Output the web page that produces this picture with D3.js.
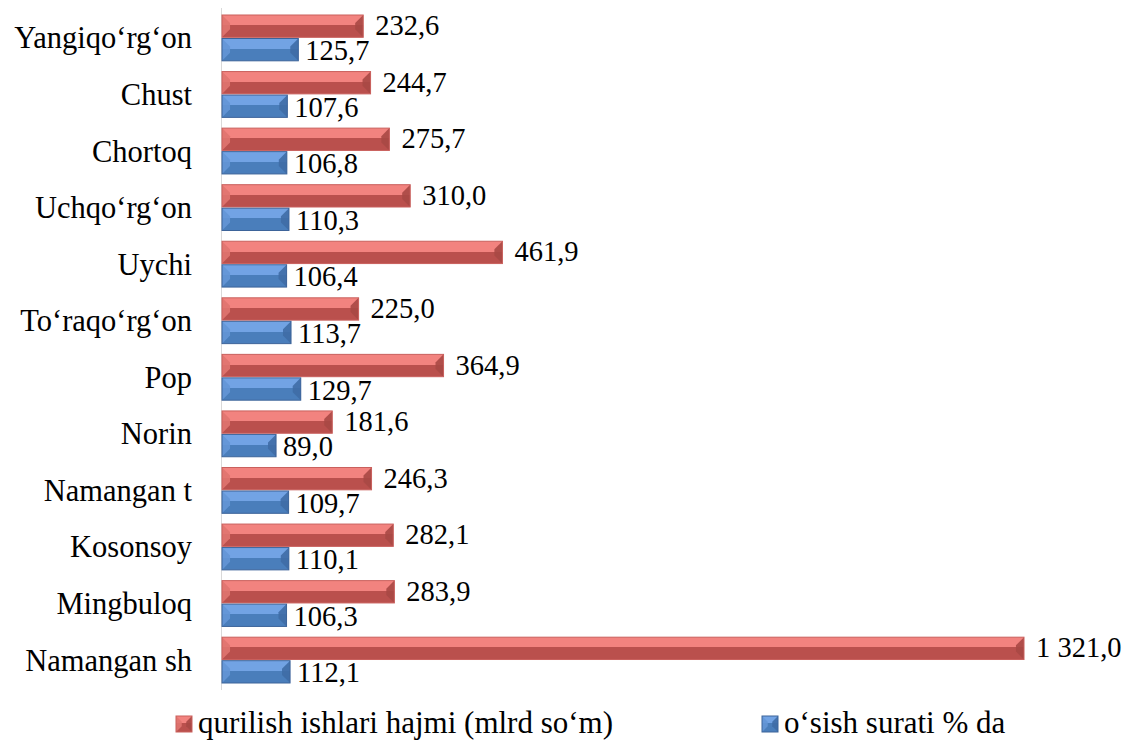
<!DOCTYPE html>
<html>
<head>
<meta charset="utf-8">
<script src="https://cdn.jsdelivr.net/npm/d3@7/dist/d3.min.js"></script>
<style>
  body { margin: 0; background: #fff; }
  svg { display: block; }
  svg text { font-family: 'Liberation Serif', Tinos, 'Times New Roman', Times, 'Nimbus Roman', 'DejaVu Serif', 'Noto Serif', serif; }
</style>
</head>
<body>
<svg id="chart" width="1123" height="740"></svg>
<script>
// categories, top to bottom as drawn
const districts = ['Yangiqo‘rg‘on', 'Chust', 'Chortoq', 'Uchqo‘rg‘on', 'Uychi', 'To‘raqo‘rg‘on',
  'Pop', 'Norin', 'Namangan t', 'Kosonsoy', 'Mingbuloq', 'Namangan sh']
const volume = [232.6, 244.7, 275.7, 310.0, 461.9, 225.0, 364.9, 181.6, 246.3, 282.1, 283.9, 1321.0]
const growth = [125.7, 107.6, 106.8, 110.3, 106.4, 113.7, 129.7, 89.0, 109.7, 110.1, 106.3, 112.1]
const seriesNames = ['qurilish ishlari hajmi (mlrd so‘m)', 'o‘sish surati % da']

const palettes = {
  red: { light: '#f2837f', dark: '#ba504d', lEnd: '#e07470', rEnd: '#a94845', stroke: '#c9605d' },
  blue: { light: '#72a3e4', dark: '#4a7ebb', lEnd: '#6496d6', rEnd: '#3f6da6', stroke: '#3d649a' }
}

const svg = d3.select('#chart')
const defs = svg.append('defs')
Object.entries(palettes).forEach(([k, p]) => {
  let g = defs.append('linearGradient').attr('id', `g-${k}`)
    .attr('x1', 0).attr('y1', 0).attr('x2', 0).attr('y2', 1)
  g.append('stop').attr('offset', '0%').attr('stop-color', p.light)
  g.append('stop').attr('offset', '46%').attr('stop-color', p.light)
  g.append('stop').attr('offset', '46%').attr('stop-color', p.dark)
  g.append('stop').attr('offset', '100%').attr('stop-color', p.dark)
})

const fmt = d3.formatLocale({ decimal: ',', thousands: ' ', grouping: [3], currency: ['', ''] }).format(',.1f')

const x = d3.scaleLinear().domain([0, 1321]).range([222, 1024])
const y = d3.scaleBand().domain(districts).range([15, 683]).paddingInner(0.19).paddingOuter(0)
const sub = d3.scaleBand().domain(['red', 'blue']).range([0, y.bandwidth()]).paddingInner(0.05)

// draws one bevelled bar like the office 3d style
function bevelBar (g, x0, y0, w, h, key) {
  let p = palettes[key]
  let b = Math.min(h * 0.36, w / 2)
  let x1 = x0 + w, y1 = y0 + h
  g.append('rect').attr('x', x0).attr('y', y0).attr('width', w).attr('height', h)
    .attr('fill', `url(#g-${key})`)
  g.append('polygon')
    .attr('points', `${x0},${y0} ${x0 + b},${y0 + b} ${x0 + b},${y1 - b} ${x0},${y1}`)
    .attr('fill', p.lEnd).attr('opacity', 0.9)
  g.append('polygon')
    .attr('points', `${x1},${y0} ${x1 - b},${y0 + b} ${x1 - b},${y1 - b} ${x1},${y1}`)
    .attr('fill', p.rEnd).attr('opacity', 0.9)
  g.append('rect').attr('x', x0).attr('y', y0).attr('width', w).attr('height', h)
    .attr('fill', 'none').attr('stroke', p.stroke).attr('stroke-width', 1)
}

// axis line
svg.append('line')
  .attr('x1', 221.5).attr('x2', 221.5).attr('y1', 8).attr('y2', 690)
  .attr('stroke', '#d9d9d9').attr('stroke-width', 1)

const rows = svg.append('g').selectAll('g.row')
  .data(districts.map((d, i) => ({ d, v: volume[i], g: growth[i] })))
  .join('g').attr('class', 'row')

rows.each(function (r) {
  let g = d3.select(this)
  let yt = y(r.d)
  bevelBar(g, x(0), yt + sub('red'), x(r.v) - x(0), sub.bandwidth(), 'red')
  bevelBar(g, x(0), yt + sub('blue'), x(r.g) - x(0), sub.bandwidth(), 'blue')
  g.append('text')
    .attr('x', x(r.v) + 12).attr('y', yt + sub('red') + sub.bandwidth() / 2 + 9)
    .attr('font-size', 28.5).attr('fill', '#000')
    .text(fmt(r.v))
  g.append('text')
    .attr('x', x(r.g) + 7).attr('y', yt + sub('blue') + sub.bandwidth() / 2 + 10.5)
    .attr('font-size', 28.5).attr('fill', '#000')
    .text(fmt(r.g))
  g.append('text')
    .attr('x', 192).attr('y', yt + y.bandwidth() / 2 + 10.5)
    .attr('font-size', 30.5).attr('text-anchor', 'end').attr('fill', '#000')
    .text(r.d)
})

// legend
const legend = svg.append('g')
const legendX = [176, 762]
seriesNames.forEach((name, i) => {
  let key = i === 0 ? 'red' : 'blue'
  let lg = legend.append('g')
  bevelBar(lg, legendX[i], 716, 16, 16, key)
  lg.append('text')
    .attr('x', legendX[i] + 22).attr('y', 733)
    .attr('font-size', 31).attr('fill', '#000')
    .text(name)
})
</script>
</body>
</html>
